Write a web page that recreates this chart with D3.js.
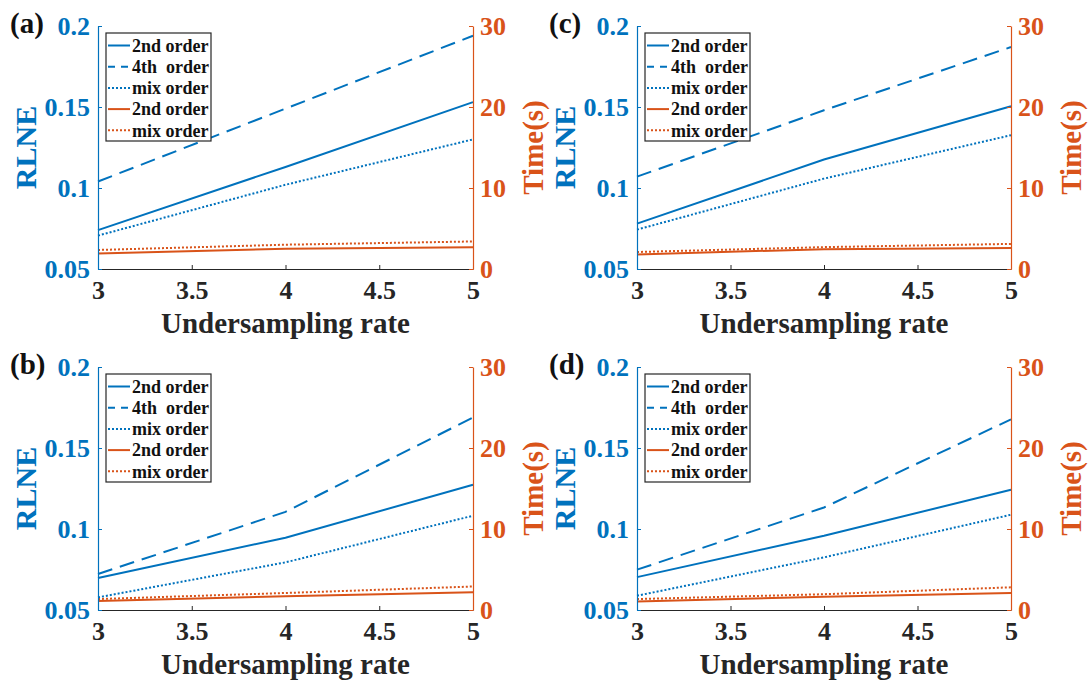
<!DOCTYPE html>
<html>
<head>
<meta charset="utf-8">
<script src="https://cdn.jsdelivr.net/npm/d3@7"></script>
<style>
  body { margin: 0; background: #fff; }
  svg { display: block; }
  svg text { font-family: "Liberation Serif", "Times New Roman", serif; font-weight: bold; }
</style>
</head>
<body>
<script>
// undersampling rates on the x axis
var rates = [3, 4, 5];
var xTicks = [3, 3.5, 4, 4.5, 5];
var rlneTicks = [0.05, 0.1, 0.15, 0.2];
var timeTicks = [0, 10, 20, 30];
var panelLabels = ["(a)", "(b)", "(c)", "(d)"];
var legendLabels = ["2nd order", "4th  order", "mix order", "2nd order", "mix order"];

// RLNE per panel (a, b, c, d)
var rlne2nd = [[0.074, 0.113, 0.153], [0.0697, 0.0946, 0.1273], [0.078, 0.1176, 0.1505], [0.0703, 0.0958, 0.1242]];
var rlne4th = [[0.104, 0.149, 0.194], [0.0722, 0.1106, 0.1688], [0.107, 0.148, 0.187], [0.0749, 0.1133, 0.1677]];
var rlneMix = [[0.0706, 0.102, 0.130], [0.0578, 0.0794, 0.1082], [0.0743, 0.1058, 0.1326], [0.0588, 0.0825, 0.1088]];
// time in seconds per panel
var time2nd = [[1.9, 2.5, 2.7], [1.1, 1.7, 2.2], [1.8, 2.45, 2.6], [1.05, 1.65, 2.1]];
var timeMix = [[2.35, 3.0, 3.4], [1.35, 2.1, 2.9], [2.1, 2.7, 3.1], [1.35, 1.95, 2.8]];

var blue = "#0072BD", orange = "#D95319", dark = "#262626";
var W = 1089, H = 686;

var svg = d3.select("body").append("svg")
  .attr("width", W)
  .attr("height", H);

svg.append("rect").attr("width", W).attr("height", H).attr("fill", "#fff");

var panels = [
  {left: 98, top: 26, right: 473},
  {left: 98, top: 367, right: 473},
  {left: 637, top: 26, right: 1011},
  {left: 637, top: 367, right: 1011}
];
var plotH = 243;

function drawPanel(p, i) {
  var w = p.right - p.left;
  var g = svg.append("g").attr("transform", "translate(" + p.left + "," + p.top + ")");

  var x = d3.scaleLinear().domain([3, 5]).range([0, w]);
  var yL = d3.scaleLinear().domain([0.05, 0.2]).range([plotH, 0]);
  var yR = d3.scaleLinear().domain([0, 30]).range([plotH, 0]);

  var series = [
    {vals: rlne2nd[i], y: yL, color: blue, dash: null},
    {vals: rlne4th[i], y: yL, color: blue, dash: "15,8"},
    {vals: rlneMix[i], y: yL, color: blue, dash: "2,2"},
    {vals: time2nd[i], y: yR, color: orange, dash: null},
    {vals: timeMix[i], y: yR, color: orange, dash: "2,2"}
  ];

  series.forEach(function(s) {
    var line = d3.line()
      .x(function(d, j) { return x(rates[j]); })
      .y(function(d) { return s.y(d); });
    g.append("path")
      .datum(s.vals)
      .attr("d", line)
      .attr("fill", "none")
      .attr("stroke", s.color)
      .attr("stroke-width", 2)
      .attr("stroke-dasharray", s.dash);
  });

  var xAxis = g.append("g")
    .attr("transform", "translate(0," + plotH + ")")
    .attr("color", dark)
    .call(d3.axisBottom(x).tickValues(xTicks).tickFormat(d3.format("")).tickSizeInner(-4).tickSizeOuter(0).tickPadding(12));

  var leftAxis = g.append("g")
    .attr("color", blue)
    .call(d3.axisLeft(yL).tickValues(rlneTicks).tickFormat(d3.format("")).tickSizeInner(-4).tickSizeOuter(0).tickPadding(8));

  var rightAxis = g.append("g")
    .attr("transform", "translate(" + w + ",0)")
    .attr("color", orange)
    .call(d3.axisRight(yR).tickValues(timeTicks).tickSizeInner(-4).tickSizeOuter(0).tickPadding(7));

  [xAxis, leftAxis, rightAxis].forEach(function(a) {
    a.attr("font-family", "Liberation Serif").attr("font-size", 26);
    a.selectAll("text")
      .style("font-size", "26px")
      .style("font-weight", "bold");
    a.select(".domain").attr("stroke-width", 1.2);
  });

  g.append("text")
    .attr("x", w / 2)
    .attr("y", plotH + 64)
    .attr("text-anchor", "middle")
    .attr("fill", dark)
    .style("font-size", "29px")
    .text("Undersampling rate");

  g.append("text")
    .attr("transform", "translate(-62," + plotH / 2 + ") rotate(-90)")
    .attr("text-anchor", "middle")
    .attr("fill", blue)
    .style("font-size", "30px")
    .text("RLNE");

  g.append("text")
    .attr("transform", "translate(" + (w + 70) + "," + plotH / 2 + ") rotate(-90)")
    .attr("text-anchor", "middle")
    .attr("fill", orange)
    .style("font-size", "29px")
    .text("Time(s)");

  svg.append("text")
    .attr("x", p.left - 88)
    .attr("y", p.top + 7)
    .attr("fill", "#111")
    .style("font-size", "29px")
    .text(panelLabels[i]);

  // legend
  var lg = g.append("g").attr("transform", "translate(8,7)");
  lg.append("rect")
    .attr("width", 105)
    .attr("height", 108)
    .attr("fill", "#fff")
    .attr("stroke", dark)
    .attr("stroke-width", 1.2);

  var rows = lg.selectAll(".row")
    .data(series)
    .enter().append("g")
    .attr("class", "row")
    .attr("transform", function(d, j) { return "translate(0," + (12.5 + j * 21.2) + ")"; });

  rows.append("line")
    .attr("x1", 2).attr("x2", 24)
    .attr("stroke", function(d) { return d.color; })
    .attr("stroke-width", 2)
    .attr("stroke-dasharray", function(d) { return d.dash === "15,8" ? "7,6" : d.dash; });

  rows.append("text")
    .attr("x", 26)
    .attr("dy", "0.35em")
    .attr("fill", "#111")
    .style("font-size", "18px")
    .style("white-space", "pre")
    .text(function(d, j) { return legendLabels[j]; });
}

panels.forEach(drawPanel);
</script>
</body>
</html>
